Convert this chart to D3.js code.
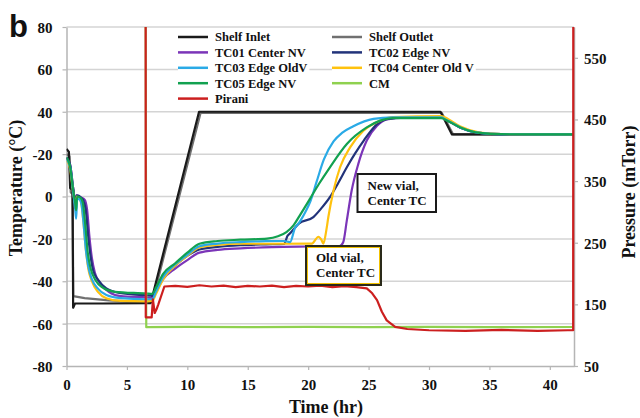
<!DOCTYPE html>
<html>
<head>
<meta charset="utf-8">
<script src="https://cdn.jsdelivr.net/npm/d3@7"></script>
<style>
  html, body { margin: 0; padding: 0; background: #fff; }
  svg { display: block; font-family: "Liberation Serif", "Times New Roman", serif; font-weight: bold; }
</style>
</head>
<body>
<svg id="chart" width="640" height="418"></svg>
<script>
// ---- data: [time (hr), value] ----
const shelfInlet = [[0,22.5],[0.2,21],[0.3,4],[0.5,3],[0.55,-52.5],[0.7,-50.5],[3,-50.5],[6.97,-50.3],[10.97,40],[30.95,40],[31.9,29.3],[42,29.3]];
const shelfOutlet = [[0,20],[0.25,19],[0.35,2],[0.5,1],[0.56,-47],[1.5,-48],[3.5,-49],[6.9,-50],[7.1,-49.5],[11.1,39.5],[31.05,39.5],[32.0,29.3],[42,29.3]];
const tc01 = [[0,18],[0.3,15],[0.55,4],[0.75,-2],[0.85,0.5],[1.2,-0.5],[1.5,-1.5],[1.7,-6],[1.9,-19],[2.1,-29],[2.35,-36],[2.8,-41],[3.5,-45],[4.5,-47],[6.6,-47.6],[7.1,-47.8],[7.4,-45],[8,-39],[9,-34],[10,-30],[11,-26.5],[12.5,-25.2],[14.4,-24.5],[17,-23.9],[20,-23.6],[22.6,-23.4],[22.9,-21.6],[23.2,-11.3],[23.6,2.8],[24.15,15.4],[24.85,26.4],[25.7,33.4],[26.5,36.4],[28,37.2],[31,37.2],[31.5,36],[32.6,32.4],[34.2,30],[36,29.4],[42,29.3]];
const tc02 = [[0,18.5],[0.3,15],[0.55,4],[0.75,-3],[0.85,0.5],[1.2,-0.5],[1.4,-1.9],[1.6,-6.6],[1.8,-19],[2.0,-28.5],[2.2,-34.8],[2.63,-39.5],[3.3,-43.4],[4.4,-45.5],[6.6,-46.6],[7.1,-46.8],[7.4,-44],[8,-38],[9,-32.5],[10,-28],[11,-25],[12.5,-23.8],[14.4,-23],[16.5,-22.6],[18.0,-22.4],[18.3,-18.5],[18.5,-17.4],[19.2,-12.9],[20.43,-9.7],[21.1,-5.5],[21.8,-0.3],[22.5,6.5],[23.2,13.8],[23.9,20.5],[24.6,26.4],[25.7,34.2],[26.5,36.5],[28,37.2],[31,37.2],[31.5,36],[32.6,32.5],[34.2,30],[36,29.4],[42,29.3]];
const tc03 = [[0,17.5],[0.3,14],[0.55,2],[0.72,-6],[0.8,-10.5],[0.88,-1],[1.1,-1.5],[1.25,-4],[1.4,-12],[1.6,-25],[1.8,-33],[2.1,-39],[2.6,-43.5],[3.3,-46.5],[4.5,-48],[6.6,-48.5],[7.1,-48.5],[7.4,-45],[8,-38],[9,-32],[10,-27.5],[11,-23.5],[12.5,-22.2],[14.4,-21.5],[16.5,-21.1],[18.0,-21],[18.5,-21.5],[18.9,-15],[19.3,-12],[19.8,-7],[20.2,-2],[20.7,7],[21.3,17.5],[22.1,26],[22.8,30],[23.7,33],[25.4,36.6],[27,37.3],[31,37.4],[31.5,36],[32.6,32.6],[34.2,30],[36,29.4],[42,29.3]];
const tc04 = [[0,17],[0.3,13],[0.55,2],[0.75,-4],[0.85,0],[1.1,-1],[1.25,-4],[1.4,-12],[1.6,-25],[1.8,-34],[2.1,-40],[2.6,-45],[3.3,-48],[4.5,-49.3],[6.6,-49.5],[7.1,-49.3],[7.4,-46],[8,-39],[9,-32.5],[10,-28],[11,-24],[12.5,-22.8],[14.4,-22.3],[17,-22.3],[20.3,-22.2],[20.85,-19],[21.1,-20.5],[21.26,-22.3],[21.5,-16],[21.67,-9.7],[22.1,2.8],[22.64,13.8],[23.47,23.2],[24.57,31],[25.95,35.8],[27,37.5],[31,38],[31.6,36.5],[32.6,33],[34.2,30.2],[36,29.5],[42,29.3]];
const tc05 = [[0,18.5],[0.3,14],[0.55,3],[0.72,-3],[0.8,-6.5],[0.88,0],[1.15,-0.5],[1.35,-3],[1.55,-13],[1.75,-26],[2.0,-34],[2.4,-39.5],[3.0,-43],[4.0,-45],[6.6,-45.8],[7.1,-46],[7.4,-43],[8,-36.5],[9,-31.5],[10,-26.5],[11,-22.3],[12.5,-21],[14.4,-20.4],[16.6,-19.9],[17.5,-18.8],[18.2,-16.8],[18.8,-13.5],[19.3,-9],[20.16,-1],[20.9,6],[21.8,13.8],[23.2,24.8],[24.85,32.6],[25.95,35.8],[27,37],[31,37],[31.5,35.8],[32.6,32.6],[34.2,30],[36,29.4],[42,29.3]];
// pressure series (mTorr)
const cm = [[6.55,620],[6.6,113],[10,113.5],[15,113],[20,113.5],[25,113],[30,113.5],[35,113],[41.93,113.3]];
const pirani = [[6.55,620],[6.56,129],[7.05,129],[7.15,158],[7.3,136],[7.45,142],[7.6,150],[8.1,179],[9,180],[10,178.5],[11,181],[12,179],[13,180.5],[14,178],[15,180],[16,179],[17,180.5],[18,178],[19,180],[20,179],[21,180.5],[22,178],[23,179.5],[24,178],[24.85,176],[25.3,168],[25.7,157],[26.1,138],[26.5,124],[27.2,113.6],[28.2,110],[30,108],[33,107],[36,108.5],[39,107],[41.5,108],[41.93,108],[41.94,620]];

const seriesNames = ["Shelf Inlet","Shelf Outlet","TC01 Center NV","TC02 Edge NV","TC03 Edge OldV","TC04 Center Old V","TC05 Edge NV","CM","Pirani"];
const seriesColors = ["#1a1a1a","#707070","#7b35b8","#22337a","#2aaae6","#ffc20e","#12a150","#8fd14f","#cc1f1f"];

const xTicks = [0,5,10,15,20,25,30,35,40];
const leftTicks = [80,60,40,20,0,-20,-40,-60,-80];
const leftTickLabels = ["80","60","40","-20","0","-20","-40","-60","-80"];
const rightTicks = [50,150,250,350,450,550];

// ---- layout ----
const svg = d3.select("#chart");
const X0 = 66.5, X1 = 574, Y0 = 27, Y1 = 366;
const serif = "'Liberation Serif', 'Times New Roman', serif";

const x = d3.scaleLinear().domain([0, 42]).range([X0, X1]);
const yT = d3.scaleLinear().domain([-80, 80]).range([Y1, Y0]);
const yP = d3.scaleLinear().domain([50, 600]).range([Y1, Y0]);

// horizontal gridlines
svg.append("g").selectAll("line").data(leftTicks.filter(d => d > -80)).join("line")
  .attr("x1", X0).attr("x2", X1)
  .attr("y1", d => yT(d)).attr("y2", d => yT(d))
  .attr("stroke", "#d4d4d4").attr("stroke-width", 1.5);

// axes
const axisColor = "#b5b5b5";
function styleAxis(g) {
  g.attr("font-family", serif).attr("font-weight", "bold").attr("font-size", 15);
  g.selectAll("path.domain").attr("stroke", axisColor).attr("stroke-width", 1.5);
  g.selectAll(".tick line").attr("stroke", axisColor).attr("stroke-width", 1.2);
  g.selectAll("text").attr("fill", "#111");
}
svg.append("g").attr("transform", `translate(0,${Y1})`)
  .call(d3.axisBottom(x).tickValues(xTicks).tickSize(4).tickPadding(9).tickSizeOuter(0))
  .call(styleAxis);
svg.append("g").attr("transform", `translate(${X0},0)`)
  .call(d3.axisLeft(yT).tickValues(leftTicks).tickSize(4).tickPadding(10).tickSizeOuter(0)
    .tickFormat((d, i) => leftTickLabels[i]))
  .call(styleAxis)
  .call(g => g.selectAll("text").attr("dy", "0.36em"));
svg.append("g").attr("transform", `translate(${X1},0)`)
  .call(d3.axisRight(yP).tickValues(rightTicks).tickSize(4).tickPadding(6).tickSizeOuter(0))
  .call(styleAxis)
  .call(g => g.selectAll("text").attr("dy", "0.36em"));

// plot clip
svg.append("clipPath").attr("id", "plotClip")
  .append("rect").attr("x", X0).attr("y", Y0).attr("width", X1 - X0 + 2).attr("height", Y1 - Y0);

const plot = svg.append("g").attr("clip-path", "url(#plotClip)");

const lineT = d3.line().x(d => x(d[0])).y(d => yT(d[1]));
const smoothT = d3.line().x(d => x(d[0])).y(d => yT(d[1])).curve(d3.curveMonotoneX);
const lineP = d3.line().x(d => x(d[0])).y(d => yP(d[1]));

const drawOrder = [
  {data: shelfOutlet, gen: lineT, c: 1},
  {data: shelfInlet, gen: lineT, c: 0},
  {data: tc01, gen: smoothT, c: 2},
  {data: tc02, gen: smoothT, c: 3},
  {data: tc04, gen: smoothT, c: 5},
  {data: tc03, gen: smoothT, c: 4},
  {data: tc05, gen: smoothT, c: 6},
  {data: cm, gen: lineP, c: 7},
  {data: pirani, gen: lineP, c: 8}
];
drawOrder.forEach(s => {
  plot.append("path").attr("d", s.gen(s.data))
    .attr("fill", "none").attr("stroke", seriesColors[s.c])
    .attr("stroke-width", 2.2).attr("stroke-linejoin", "round");
});

// legend (two columns, filled row by row)
const legend = svg.append("g");
seriesNames.forEach((name, i) => {
  const col = i % 2, row = Math.floor(i / 2);
  const lx = col === 0 ? 178 : 332;
  const ly = 37 + row * 15.4;
  const g = legend.append("g");
  const t = g.append("text").attr("x", lx + 37).attr("y", ly).attr("dy", "0.35em")
    .attr("font-size", 12.5).attr("fill", "#111").text(name);
  const w = t.node().getComputedTextLength();
  g.insert("rect", "text").attr("x", lx).attr("y", ly - 6.5).attr("width", w + 39).attr("height", 13).attr("fill", "#fff");
  g.insert("line", "text").attr("x1", lx).attr("x2", lx + 30).attr("y1", ly).attr("y2", ly)
    .attr("stroke", seriesColors[i]).attr("stroke-width", 2.5);
});

// annotation boxes
function note(bx, by, bw, bh, lines, stroke, inner) {
  const g = svg.append("g");
  g.append("rect").attr("x", bx).attr("y", by).attr("width", bw).attr("height", bh)
    .attr("fill", "#fff").attr("stroke", stroke).attr("stroke-width", 2);
  if (inner) {
    g.append("rect").attr("x", bx + 1.5).attr("y", by + 1.5).attr("width", bw - 3).attr("height", bh - 3)
      .attr("fill", "none").attr("stroke", inner).attr("stroke-width", 1);
  }
  lines.forEach((s, i) => {
    g.append("text").attr("x", bx + 10).attr("y", by + 16 + i * 14.5)
      .attr("font-size", 13).attr("fill", "#111").text(s);
  });
}
note(357.5, 174, 78.5, 38, ["New vial,", "Center TC"], "#1a1a1a", null);
note(306, 246, 75, 39, ["Old vial,", "Center TC"], "#2a2a1a", "#f2c100");

// axis titles
svg.append("text").attr("transform", "translate(22,188) rotate(-90)")
  .attr("text-anchor", "middle").attr("font-size", 18).attr("fill", "#111").text("Temperature (°C)");
svg.append("text").attr("transform", "translate(635,192) rotate(-90)")
  .attr("text-anchor", "middle").attr("font-size", 18).attr("fill", "#111").text("Pressure (mTorr)");
svg.append("text").attr("x", 326).attr("y", 413)
  .attr("text-anchor", "middle").attr("font-size", 18).attr("fill", "#111").text("Time (hr)");

// panel letter
svg.append("text").attr("x", 9).attr("y", 37)
  .style("font-family", "'Liberation Sans', Arial, sans-serif").attr("font-size", 31)
  .style("font-weight", "bold").attr("fill", "#111").text("b");
</script>
</body>
</html>
